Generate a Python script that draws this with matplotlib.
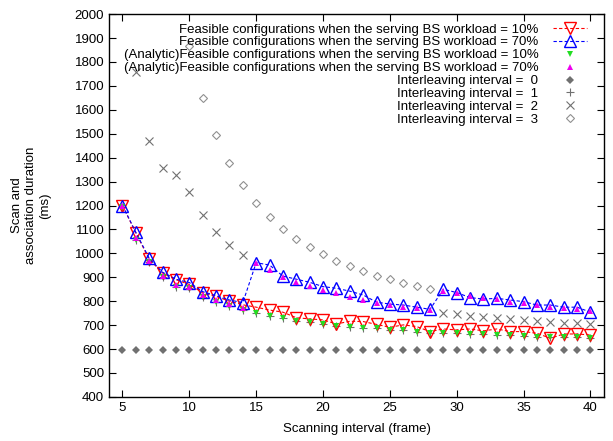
import matplotlib.pyplot as plt
import numpy as np

plt.rcParams['font.family'] = ['Liberation Sans', 'DejaVu Sans']

# scanning interval (frame)
scan = list(range(5, 41))

# measured feasible configurations
load10 = [1200, 1085, 975, 918, 890, 870, 835, 820, 800, 785,
          775, 763, 754, 731, 726, 722, 705, 716, 715, 703,
          691, 701, 694, 673, 684, 680, 684, 676, 684, 673,
          673, 666, 645, 663, 663, 659]
load70 = [1200, 1088, 979, 921, 892, 878, 840, 823, 805, 794,
          961, 951, 905, 892, 879, 861, 854, 842, 826, 796,
          788, 784, 775, 766, 850, 836, 815, 809, 812, 805,
          798, 784, 784, 775, 775, 754]

# analytic feasible configurations
ana10 = [1195, 1056, 965, 902, 861, 854, 819, 798, 780, 763,
         750, 740, 729, 719, 712, 705, 698, 694, 690, 687,
         680, 680, 673, 669, 669, 666, 664, 662, 658, 657,
         656, 652, 650, 650, 649, 645]
ana70 = [1200, 1063, 969, 907, 868, 861, 826, 805, 787, 770,
         958, 930, 902, 882, 864, 847, 833, 819, 805, 794,
         784, 777, 770, 763, 844, 833, 822, 812, 808, 798,
         791, 784, 777, 773, 768, 760]

# interleaving intervals
inter0 = [595] * len(scan)
inter1 = ana10
inter2_x = [6, 7, 8, 9, 10, 11, 12, 13, 14,
            29, 30, 31, 32, 33, 34, 35, 36, 37, 38, 39, 40]
inter2_y = [1760, 1470, 1355, 1326, 1255, 1161, 1090, 1034, 992,
            750, 745, 740, 735, 731, 726, 722, 717, 712, 708, 707, 704]
inter3_x = list(range(10, 29))
inter3_y = [1868, 1650, 1494, 1376, 1284, 1212, 1150, 1102, 1061, 1025,
            996, 969, 946, 926, 907, 892, 876, 864, 851]

fig = plt.figure(figsize=(6.13, 4.41), dpi=100)
ax = fig.add_axes([0.178, 0.1, 0.807, 0.868])

ax.plot(scan, inter1, '+', color='#707070', ms=6, mew=0.8, zorder=1,
        label='Interleaving interval =  1')
ax.plot(scan, load10, '--', color='red', lw=0.8, dashes=(3, 2),
        marker='v', ms=8.5, mfc='none', mec='red', mew=1.0, zorder=3,
        label='Feasible configurations when the serving BS workload = 10%')
ax.plot(scan, load70, '--', color='blue', lw=0.8, dashes=(3, 2),
        marker='^', ms=8.5, mfc='none', mec='blue', mew=1.0, zorder=3,
        label='Feasible configurations when the serving BS workload = 70%')
ax.plot(scan, ana10, 'v', color='#22dd22', ms=5, mew=0, zorder=4,
        label='(Analytic)Feasible configurations when the serving BS workload = 10%')
ax.plot(scan, ana70, '^', color='#ee00ee', ms=5, mew=0, zorder=4,
        label='(Analytic)Feasible configurations when the serving BS workload = 70%')
ax.plot(scan, inter0, 'D', color='#707070', ms=4, mew=0, zorder=2,
        label='Interleaving interval =  0')
ax.plot(inter2_x, inter2_y, 'x', color='#707070', ms=6, mew=0.8, zorder=2,
        label='Interleaving interval =  2')
ax.plot(inter3_x, inter3_y, 'D', color='#909090', ms=4, mfc='none', mew=0.8,
        zorder=2, label='Interleaving interval =  3')

ax.set_xlim(4, 41)
ax.set_ylim(400, 2000)
ax.set_xticks(range(5, 41, 5))
ax.set_yticks(range(400, 2001, 100))
ax.tick_params(direction='in', length=5, top=True, right=True, labelsize=9.5)
for s in ax.spines.values():
    s.set_linewidth(1.0)

ax.set_xlabel('Scanning interval (frame)', fontsize=9.5, labelpad=7)
ax.set_ylabel('Scan and\nassociation duration\n(ms)', fontsize=9.5, labelpad=17)

handles, labels = ax.get_legend_handles_labels()
order = [1, 2, 3, 4, 5, 0, 6, 7]
ax.legend([handles[i] for i in order], [labels[i] for i in order],
          loc='upper right', frameon=False, markerfirst=False, fontsize=9.5,
          handlelength=2.6, handletextpad=1.1, labelspacing=0.05,
          borderaxespad=0.3, bbox_to_anchor=(0.985, 1.0))

fig.savefig('out.png', dpi=100)
